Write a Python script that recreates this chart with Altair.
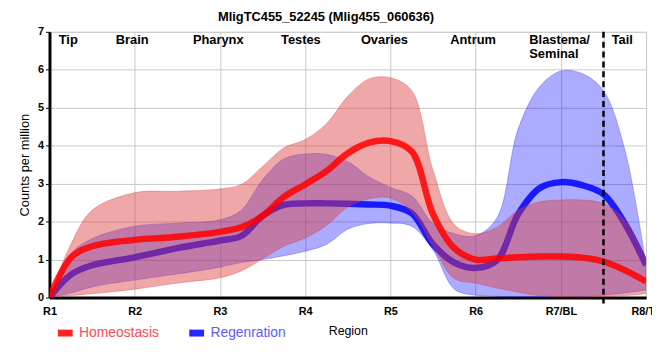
import altair as alt
import pandas as pd

# ---- data ----
x_pos = [1, 1.25, 1.5, 2, 2.5, 3, 3.25, 3.5, 3.75, 4, 4.25, 4.5, 4.75, 5,
         5.25, 5.5, 5.75, 6, 6.25, 6.5, 6.75, 7, 7.25, 7.5, 7.75, 8]

homeo_mean = [0, 1.05, 1.35, 1.52, 1.6, 1.73, 1.85, 2.15, 2.65, 2.98, 3.33, 3.8, 4.08, 4.12,
              3.85, 2.2, 1.3, 1.0, 1.03, 1.06, 1.08, 1.08, 1.05, 0.95, 0.72, 0.42]
homeo_upper = [0, 1.4, 2.3, 2.76, 2.8, 2.86, 2.98, 3.45, 3.94, 4.16, 4.58, 5.3, 5.76, 5.79,
               5.45, 3.35, 1.92, 1.68, 1.85, 2.3, 2.52, 2.57, 2.57, 2.48, 2.05, 1.0]
homeo_lower = [0, 0.05, 0.1, 0.22, 0.38, 0.52, 0.7, 1.02, 1.35, 1.57, 1.9, 2.38, 2.6, 2.62,
               2.25, 1.35, 0.5, 0.38, 0.25, 0.14, 0.05, 0.02, 0.01, 0.02, 0.05, 0.1]

regen_mean = [0, 0.6, 0.85, 1.06, 1.3, 1.5, 1.62, 2.15, 2.44, 2.48, 2.48, 2.47, 2.45, 2.42,
              2.22, 1.4, 0.92, 0.78, 0.98, 2.2, 2.88, 3.04, 2.96, 2.72, 1.95, 0.85]
regen_upper = [0, 1.15, 1.55, 1.88, 1.96, 2.05, 2.3, 3.1, 3.65, 3.78, 3.77, 3.58, 3.18, 2.9,
               2.68, 1.95, 1.68, 1.63, 2.1, 4.45, 5.55, 5.97, 5.9, 5.45, 3.9, 0.85]
regen_lower = [0, 0.12, 0.28, 0.46, 0.62, 0.8, 0.92, 1.0, 1.1, 1.22, 1.4, 1.8, 1.95, 1.96,
               1.88, 1.25, 0.22, 0.06, 0.03, 0.02, 0.01, 0.0, 0.02, 0.06, 0.12, 0.2]

series_names = ["Homeostasis", "Regenration"]
region_ticks = ["R1", "R2", "R3", "R4", "R5", "R6", "R7/BL", "R8/TL"]
tick_values = [1, 2, 3, 4, 5, 6, 7, 7.5, 8]
anatomy_labels = ["Tip", "Brain", "Pharynx", "Testes", "Ovaries", "Antrum", "Blastema/\nSeminal", "Tail"]
anatomy_x = [1.22, 1.97, 2.98, 3.95, 4.93, 5.97, 6.63, 7.72]
anatomy_align = ["center", "center", "center", "center", "center", "center", "left", "center"]
boundary_x = [7.5]

FONT = "Liberation Sans"
INTERP = "catmull-rom"

df_h = pd.DataFrame({"x": x_pos, "mean": homeo_mean, "hi": homeo_upper, "lo": homeo_lower,
                     "series": series_names[0]})
df_r = pd.DataFrame({"x": x_pos, "mean": regen_mean, "hi": regen_upper, "lo": regen_lower,
                     "series": series_names[1]})
df_lab = pd.DataFrame({"x": anatomy_x, "label": anatomy_labels, "align": anatomy_align})
df_b = pd.DataFrame({"x": boundary_x})

label_list = "[" + ",".join("'%s'" % t for t in region_ticks) + "]"
x_axis = alt.Axis(
    values=tick_values,
    labelExpr="datum.value == 7.5 ? '' : %s[datum.value - 1]" % label_list,
    ticks=False, domainColor="black", domainWidth=3,
    labelFont=FONT, labelFontSize=11, labelFontWeight="bold", labelColor="black",
    labelPadding=8, labelFlush=False, labelOverlap=False,
    grid=True, gridColor="#c8c8c8", gridWidth=1,
    titleFont=FONT, titleFontSize=12.5, titleFontWeight="normal", titleColor="black",
    titlePadding=8,
)
y_axis = alt.Axis(
    values=[0, 1, 2, 3, 4, 5, 6, 7], tickSize=4, tickColor="black",
    domainColor="black", domainWidth=3,
    labelFont=FONT, labelFontSize=11, labelFontWeight="bold", labelColor="black",
    labelPadding=2,
    grid=True, gridColor="#c8c8c8", gridWidth=1,
    titleFont=FONT, titleFontSize=13, titleFontWeight="normal", titleColor="black",
    titlePadding=6,
)
xs = alt.Scale(domain=[1, 8], nice=False, zero=False)
ys = alt.Scale(domain=[0, 7], nice=False)

def X():
    return alt.X("x:Q", scale=xs, axis=x_axis, title="Region")

def Y(field):
    return alt.Y(field + ":Q", scale=ys, axis=y_axis, title="Counts per million")

color_scale = alt.Scale(domain=series_names, range=["#ff0000", "#0000ff"])
legend = alt.Legend(
    orient="none", legendX=5, legendY=294, direction="horizontal", title=None,
    symbolType="stroke", symbolStrokeWidth=7, symbolSize=225, symbolOpacity=0.85,
    labelFont=FONT, labelFontSize=14, labelOffset=3, columnPadding=16, padding=0,
    labelColor=alt.ExprRef(expr="datum.label == 'Homeostasis' ? '#ff4a50' : '#5c5cff'"),
)

band_r = alt.Chart(df_r).mark_area(
    interpolate=INTERP, color="#0000ff", fillOpacity=0.33,
    stroke="#0000ff", strokeOpacity=0.25, strokeWidth=1, clip=True,
).encode(x=X(), y=Y("hi"), y2="lo:Q")

line_r = alt.Chart(df_r).mark_line(
    interpolate=INTERP, strokeWidth=6.5, opacity=0.85, clip=True,
).encode(x=X(), y=Y("mean"),
         color=alt.Color("series:N", scale=color_scale, legend=legend))

band_h = alt.Chart(df_h).mark_area(
    interpolate=INTERP, color="#dc3c3c", fillOpacity=0.45,
    stroke="#dc3c3c", strokeOpacity=0.35, strokeWidth=1, clip=True,
).encode(x=X(), y=Y("hi"), y2="lo:Q")

line_h = alt.Chart(df_h).mark_line(
    interpolate=INTERP, strokeWidth=6.5, opacity=0.85, clip=True,
).encode(x=X(), y=Y("mean"),
         color=alt.Color("series:N", scale=color_scale, legend=legend))

rule = alt.Chart(df_b).mark_rule(
    color="black", strokeWidth=2.5, strokeDash=[6, 4]
).encode(x=X(), y=alt.value(0), y2=alt.value(275))

lab_c = alt.Chart(df_lab).transform_filter("datum.align == 'center'").mark_text(
    font=FONT, fontSize=13, fontWeight="bold", baseline="top", align="center",
    lineBreak="\n", lineHeight=14, color="black"
).encode(x=X(), y=alt.value(2), text="label:N")

lab_l = alt.Chart(df_lab).transform_filter("datum.align == 'left'").mark_text(
    font=FONT, fontSize=13, fontWeight="bold", baseline="top", align="left",
    lineBreak="\n", lineHeight=14, color="black"
).encode(x=X(), y=alt.value(2), text="label:N")

chart = alt.layer(band_r, line_r, band_h, line_h, rule, lab_c, lab_l).properties(
    width=604, height=269,
    padding={"left": 42, "top": 22, "right": 6, "bottom": 50},
    autosize=alt.AutoSizeParams(type="none"),
    title=alt.TitleParams(
        "MligTC455_52245 (Mlig455_060636)", font=FONT, fontSize=13,
        fontWeight="bold", color="black", anchor="middle", dx=-22, offset=2,
    ),
).configure_view(stroke="black", strokeWidth=1.5).configure(background="white")

chart.save("out.html", embed_options={"renderer": "svg", "actions": False})
